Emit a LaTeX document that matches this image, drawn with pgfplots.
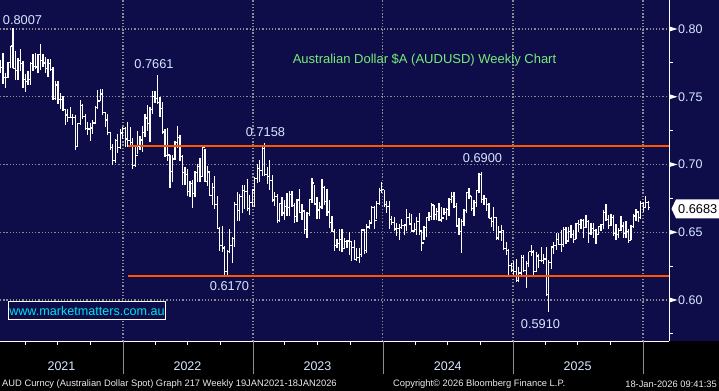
\documentclass[border=0pt]{standalone}
\usepackage{pgfplots}
\pgfplotsset{compat=1.18}
\usepackage{pgfplotstable}
\usepackage{fontspec}
\setmainfont{Liberation Sans}
\definecolor{navy}{RGB}{14,13,74}
\definecolor{gridgray}{RGB}{140,140,140}
\definecolor{orangeline}{RGB}{255,85,0}
\definecolor{ticktext}{RGB}{215,232,255}
\definecolor{titlegreen}{RGB}{120,235,120}
\definecolor{webcyan}{RGB}{0,225,240}
\definecolor{foot}{RGB}{235,235,235}

\pgfdeclareplotmark{closetick}{\pgfpathmoveto{\pgfpointorigin}\pgfpathlineto{\pgfpoint{1.5bp}{0pt}}\pgfusepathqstroke}
\pgfdeclareplotmark{opentick}{\pgfpathmoveto{\pgfpoint{-1.5bp}{0pt}}\pgfpathlineto{\pgfpointorigin}\pgfusepathqstroke}

\pgfplotstableread{
t h l c
0 0.7773 0.7675 0.7713
1 0.7820 0.7592 0.7644
2 0.7674 0.7564 0.7644
3 0.7755 0.7640 0.7750
4 0.7876 0.7714 0.7874
5 0.8007 0.7813 0.7710
6 0.7838 0.7622 0.7694
7 0.7785 0.7621 0.7767
8 0.7849 0.7688 0.7744
9 0.7763 0.7563 0.7629
10 0.7667 0.7532 0.7615
11 0.7688 0.7583 0.7625
12 0.7760 0.7583 0.7744
13 0.7817 0.7692 0.7722
14 0.7820 0.7701 0.7720
15 0.7816 0.7675 0.7812
16 0.7891 0.7694 0.7767
17 0.7813 0.7719 0.7749
18 0.7792 0.7675 0.7711
19 0.7776 0.7645 0.7743
20 0.7775 0.7692 0.7703
21 0.7717 0.7477 0.7486
22 0.7617 0.7479 0.7587
23 0.7617 0.7446 0.7480
24 0.7526 0.7410 0.7480
25 0.7507 0.7393 0.7404
26 0.7409 0.7288 0.7366
27 0.7408 0.7315 0.7345
28 0.7427 0.7358 0.7344
29 0.7373 0.7290 0.7346
30 0.7365 0.7106 0.7134
31 0.7305 0.7134 0.7300
32 0.7478 0.7288 0.7435
33 0.7443 0.7334 0.7352
34 0.7373 0.7253 0.7265
35 0.7316 0.7221 0.7261
36 0.7303 0.7170 0.7270
37 0.7325 0.7224 0.7306
38 0.7433 0.7299 0.7419
39 0.7546 0.7413 0.7469
40 0.7556 0.7472 0.7521
41 0.7555 0.7364 0.7384
42 0.7385 0.7277 0.7328
43 0.7370 0.7220 0.7234
44 0.7240 0.7110 0.7125
45 0.7150 0.6993 0.7027
46 0.7190 0.7011 0.7178
47 0.7224 0.7082 0.7125
48 0.7260 0.7111 0.7233
49 0.7278 0.7186 0.7264
50 0.7278 0.7130 0.7188
51 0.7315 0.7130 0.7177
52 0.7276 0.7147 0.7162
53 0.7196 0.6967 0.6993
54 0.7128 0.6980 0.7067
55 0.7250 0.7075 0.7134
56 0.7210 0.7110 0.7181
57 0.7285 0.7094 0.7234
58 0.7371 0.7200 0.7343
59 0.7441 0.7246 0.7300
60 0.7425 0.7165 0.7405
61 0.7540 0.7373 0.7504
62 0.7540 0.7456 0.7488
63 0.7661 0.7450 0.7460
64 0.7500 0.7350 0.7412
65 0.7458 0.7225 0.7240
66 0.7265 0.7054 0.7064
67 0.7266 0.7029 0.7070
68 0.7070 0.6829 0.6947
69 0.7073 0.6872 0.7040
70 0.7170 0.7035 0.7164
71 0.7283 0.7125 0.7198
72 0.7220 0.7028 0.7058
73 0.7069 0.6850 0.6943
74 0.6980 0.6850 0.6927
75 0.6968 0.6765 0.6803
76 0.6875 0.6762 0.6862
77 0.6883 0.6681 0.6784
78 0.6955 0.6760 0.6941
79 0.7003 0.6870 0.6985
80 0.7048 0.6870 0.6913
81 0.7137 0.6911 0.7124
82 0.7114 0.6869 0.6875
83 0.6991 0.6839 0.6944
84 0.6953 0.6771 0.6773
85 0.6861 0.6699 0.6829
86 0.6917 0.6671 0.6702
87 0.6769 0.6524 0.6528
88 0.6540 0.6363 0.6402
89 0.6547 0.6355 0.6384
90 0.6398 0.6170 0.6210
91 0.6368 0.6180 0.6356
92 0.6522 0.6345 0.6402
93 0.6461 0.6271 0.6456
94 0.6720 0.6389 0.6705
95 0.6797 0.6585 0.6660
96 0.6782 0.6586 0.6762
97 0.6852 0.6640 0.6810
98 0.6846 0.6668 0.6799
99 0.6893 0.6657 0.6675
100 0.6775 0.6630 0.6721
101 0.6803 0.6688 0.6811
102 0.6910 0.6688 0.6898
103 0.7006 0.6860 0.6970
104 0.7030 0.6872 0.6954
105 0.7142 0.6912 0.7116
106 0.7158 0.6915 0.6924
107 0.6978 0.6856 0.6913
108 0.7030 0.6810 0.6882
109 0.6920 0.6720 0.6737
110 0.6797 0.6694 0.6766
111 0.6785 0.6565 0.6587
112 0.6717 0.6575 0.6710
113 0.6758 0.6620 0.6642
114 0.6737 0.6590 0.6687
115 0.6793 0.6620 0.6680
116 0.6806 0.6620 0.6781
117 0.6806 0.6690 0.6696
118 0.6712 0.6565 0.6614
119 0.6743 0.6574 0.6738
120 0.6818 0.6640 0.6648
121 0.6710 0.6592 0.6656
122 0.6665 0.6490 0.6518
123 0.6651 0.6458 0.6640
124 0.6748 0.6620 0.6743
125 0.6900 0.6715 0.6863
126 0.6851 0.6700 0.6709
127 0.6760 0.6597 0.6664
128 0.6720 0.6600 0.6686
129 0.6895 0.6675 0.6828
130 0.6838 0.6700 0.6726
131 0.6822 0.6620 0.6650
132 0.6740 0.6533 0.6574
133 0.6620 0.6504 0.6504
134 0.6522 0.6364 0.6403
135 0.6452 0.6380 0.6419
136 0.6522 0.6358 0.6446
137 0.6523 0.6357 0.6381
138 0.6458 0.6377 0.6433
139 0.6445 0.6385 0.6435
140 0.6501 0.6331 0.6433
141 0.6426 0.6285 0.6386
142 0.6445 0.6306 0.6299
143 0.6380 0.6288 0.6311
144 0.6381 0.6270 0.6335
145 0.6522 0.6314 0.6517
146 0.6522 0.6339 0.6366
147 0.6561 0.6350 0.6539
148 0.6588 0.6522 0.6568
149 0.6690 0.6573 0.6684
150 0.6690 0.6525 0.6588
151 0.6728 0.6595 0.6713
152 0.6823 0.6702 0.6810
153 0.6871 0.6787 0.6813
154 0.6812 0.6683 0.6703
155 0.6728 0.6640 0.6688
156 0.6731 0.6525 0.6596
157 0.6620 0.6551 0.6570
158 0.6610 0.6508 0.6523
159 0.6566 0.6470 0.6530
160 0.6558 0.6443 0.6537
161 0.6595 0.6525 0.6552
162 0.6560 0.6477 0.6554
163 0.6668 0.6507 0.6609
164 0.6640 0.6560 0.6560
165 0.6634 0.6500 0.6509
166 0.6565 0.6504 0.6520
167 0.6609 0.6480 0.6579
168 0.6644 0.6478 0.6509
169 0.6505 0.6362 0.6421
170 0.6543 0.6443 0.6535
171 0.6614 0.6464 0.6606
172 0.6648 0.6580 0.6618
173 0.6714 0.6593 0.6700
174 0.6702 0.6591 0.6628
175 0.6680 0.6592 0.6653
176 0.6714 0.6588 0.6591
177 0.6684 0.6575 0.6605
178 0.6681 0.6626 0.6648
179 0.6681 0.6589 0.6670
180 0.6750 0.6620 0.6744
181 0.6798 0.6714 0.6764
182 0.6797 0.6680 0.6690
183 0.6715 0.6540 0.6545
184 0.6607 0.6479 0.6506
185 0.6597 0.6349 0.6580
186 0.6675 0.6546 0.6663
187 0.6798 0.6644 0.6795
188 0.6824 0.6744 0.6767
189 0.6765 0.6660 0.6673
190 0.6738 0.6620 0.6719
191 0.6808 0.6687 0.6806
192 0.6937 0.6792 0.6924
193 0.6942 0.6716 0.6741
194 0.6774 0.6704 0.6748
195 0.6753 0.6657 0.6707
196 0.6718 0.6602 0.6602
197 0.6610 0.6537 0.6578
198 0.6688 0.6509 0.6610
199 0.6614 0.6441 0.6457
200 0.6549 0.6440 0.6501
201 0.6550 0.6433 0.6512
202 0.6515 0.6370 0.6377
203 0.6430 0.6335 0.6366
204 0.6375 0.6178 0.6253
205 0.6276 0.6205 0.6218
206 0.6289 0.6179 0.6209
207 0.6302 0.6130 0.6143
208 0.6240 0.6131 0.6199
209 0.6330 0.6186 0.6316
210 0.6331 0.6203 0.6215
211 0.6289 0.6088 0.6270
212 0.6356 0.6240 0.6356
213 0.6408 0.6323 0.6354
214 0.6371 0.6187 0.6212
215 0.6354 0.6206 0.6324
216 0.6341 0.6235 0.6293
217 0.6391 0.6279 0.6293
218 0.6342 0.6264 0.6303
219 0.6392 0.6036 0.6039
220 0.6298 0.5914 0.6274
221 0.6390 0.6231 0.6390
222 0.6429 0.6342 0.6404
223 0.6494 0.6367 0.6447
224 0.6492 0.6411 0.6412
225 0.6515 0.6357 0.6411
226 0.6537 0.6390 0.6521
227 0.6537 0.6412 0.6435
228 0.6537 0.6437 0.6503
229 0.6552 0.6455 0.6483
230 0.6514 0.6420 0.6445
231 0.6566 0.6450 0.6562
232 0.6590 0.6505 0.6557
233 0.6595 0.6520 0.6586
234 0.6595 0.6455 0.6534
235 0.6625 0.6530 0.6581
236 0.6588 0.6419 0.6490
237 0.6568 0.6480 0.6530
238 0.6568 0.6457 0.6515
239 0.6520 0.6414 0.6485
240 0.6548 0.6480 0.6540
241 0.6562 0.6511 0.6557
242 0.6663 0.6520 0.6645
243 0.6707 0.6590 0.6592
244 0.6625 0.6520 0.6552
245 0.6633 0.6548 0.6610
246 0.6629 0.6470 0.6493
247 0.6559 0.6440 0.6485
248 0.6531 0.6459 0.6510
249 0.6618 0.6510 0.6545
250 0.6577 0.6460 0.6490
251 0.6580 0.6460 0.6506
252 0.6520 0.6421 0.6441
253 0.6550 0.6440 0.6540
254 0.6637 0.6530 0.6620
255 0.6670 0.6580 0.6650
256 0.6660 0.6575 0.6610
257 0.6727 0.6600 0.6710
258 0.6720 0.6650 0.6680
259 0.6766 0.6680 0.6720
260 0.6727 0.6665 0.6683
}\aud

\begin{document}
\begin{tikzpicture}
\fill[black] (0bp,0bp) rectangle (719bp,391bp);
\fill[navy] (0bp,50bp) rectangle (719bp,391bp);
\begin{axis}[
  at={(0bp,50bp)}, anchor=south west,
  scale only axis, width=669bp, height=341bp,
  xmin=-0.24, xmax=268.3, ymin=0.5697, ymax=0.8214,
  axis x line*=bottom, axis y line*=right,
  axis line style={white, line width=1bp},
  xtick={49.14,101.29,153.43,205.71,257.86}, xticklabels={},
  minor xtick={9.86,22.86,36.0,62.0,75.0,88.14,114.14,127.14,140.29,166.43,179.43,192.57,218.57,231.57,244.71},
  ytick={0.60,0.65,0.70,0.75,0.80},
  yticklabels={0.60,0.65,0.70,0.75,0.80},
  minor ytick={0.575,0.625,0.675,0.725,0.775},
  tick align=outside,
  major tick length=0bp, minor tick length=4bp,
  minor tick style={white, line width=1bp},
  major tick style={draw=none},
  grid=major,
  major grid style={gridgray, line width=1.3bp, dash pattern=on 1.3bp off 1.9bp},
  yticklabel pos=right,
  yticklabel style={font=\fontsize{12.5bp}{13bp}\selectfont, text=ticktext, anchor=west, inner sep=0pt, xshift=9bp},
]
\addplot[only marks, mark=closetick, mark options={white, line width=1.25bp},
  error bars/.cd, y dir=both, y explicit, error mark=none,
  error bar style={white, line width=1.25bp}]
  table[x=t, y=c, y error plus expr=\thisrow{h}-\thisrow{c}, y error minus expr=\thisrow{c}-\thisrow{l}] {\aud};
\addplot[only marks, mark=opentick, mark options={white, line width=1.25bp}, restrict x to domain=0:260.5]
  table[x expr=\thisrow{t}+1, y=c] {\aud};
\addplot[orangeline, line width=2.2bp] coordinates {(51.1,0.7139) (268.3,0.7139)};
\addplot[orangeline, line width=2.2bp] coordinates {(51.1,0.6179) (268.3,0.6179)};
\end{axis}
\begin{scope}[x=1bp, y=1bp, every node/.style={inner sep=0pt}]
  % major y tick arrows
  \foreach \yy in {362,294.25,226.5,158.75,91} {
    \fill[white] (669,\yy+2.6) -- (677.5,\yy) -- (669,\yy-2.6) -- cycle;
  }
  % year separators
  \foreach \xx in {123,253,383.2,513.4,643} {
    \draw[gridgray, line width=1bp] (\xx,50) -- (\xx,17);
  }
  \begin{scope}[every node/.style={inner sep=0pt, text=ticktext, font=\fontsize{12.5bp}{13bp}\selectfont}]
    \node at (61.5,25) {2021};
    \node at (187.5,25) {2022};
    \node at (317.5,25) {2023};
    \node at (447.8,25) {2024};
    \node at (577.6,25) {2025};
  \end{scope}
  \begin{scope}[every node/.style={inner sep=0pt, text=ticktext, font=\fontsize{12.8bp}{13bp}\selectfont}]
    \node at (22.5,371) {0.8007};
    \node at (154,327) {0.7661};
    \node at (265.5,259) {0.7158};
    \node at (482.5,233) {0.6900};
    \node at (229.5,105) {0.6170};
    \node at (540.5,67) {0.5910};
  \end{scope}
  \node[text=titlegreen, font=\fontsize{13bp}{14bp}\selectfont] at (424.5,331) {Australian Dollar \$A (AUDUSD) Weekly Chart};
  \draw[white, line width=1bp, fill=navy] (8.5,71.5) rectangle (165.5,89.5);
  \node[text=webcyan, font=\fontsize{12.6bp}{13bp}\selectfont] at (87,80.5) {www.marketmatters.com.au};
  % last price label
  \fill[white] (671.5,182.2) -- (676,191.7) -- (719,191.7) -- (719,172.7) -- (676,172.7) -- cycle;
  \node[text=black, font=\fontsize{12.8bp}{13bp}\selectfont, anchor=east] at (717.5,182.2) {0.6683};
  % footer
  \begin{scope}[every node/.style={inner sep=0pt, text=foot, font=\fontsize{9.35bp}{10bp}\selectfont}]
    \node[anchor=west] at (2,7) {AUD Curncy (Australian Dollar Spot) Graph 217 Weekly 19JAN2021-18JAN2026};
    \node[anchor=west] at (393,7) {Copyright© 2026 Bloomberg Finance L.P.};
    \node[anchor=east] at (717,7) {18-Jan-2026 09:41:35};
  \end{scope}
\end{scope}
\pgfresetboundingbox
\useasboundingbox (0bp,0bp) rectangle (719bp,391bp);
\end{tikzpicture}
\end{document}
